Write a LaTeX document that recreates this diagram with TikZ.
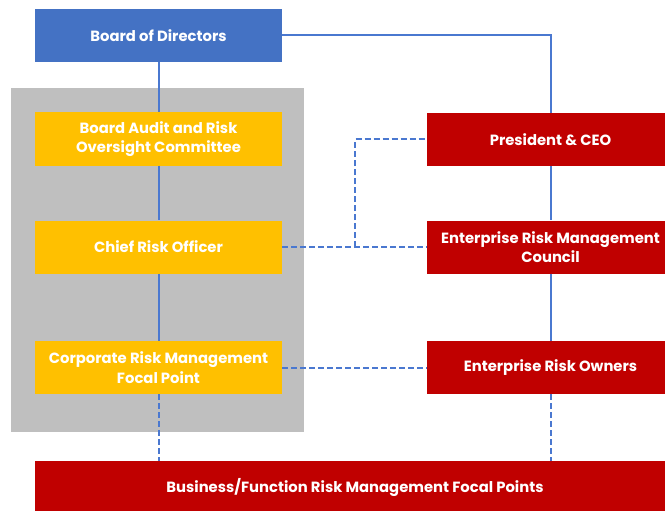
\documentclass[tikz,border=0pt]{standalone}
\usepackage{fontspec}
\setmainfont{Poppins}
\usetikzlibrary{positioning}
\definecolor{boardblue}{HTML}{4472C4}
\definecolor{lineblue}{HTML}{4A78D0}
\definecolor{riskgold}{HTML}{FFC000}
\definecolor{riskred}{HTML}{C00000}
\definecolor{panelgray}{HTML}{BFBFBF}

\begin{document}
\begin{tikzpicture}[x=1pt, y=-1pt,
    box/.style={minimum width=247pt, minimum height=53pt, inner sep=0pt, text=white, align=center, font=\fontsize{14.8}{19.5}\selectfont\bfseries},
    link/.style={draw=lineblue, line width=2pt},
    dashlink/.style={link, dash pattern=on 6pt off 3pt}]
    \clip (0, 0) rectangle (665, 511);
    \fill[white] (0, 0) rectangle (665, 511);
    \fill[panelgray] (11, 88) rectangle (304, 432);
    % left column
    \node[box, fill=boardblue] (board) at (158.5, 35.5) {Board of Directors};
    \node[box, fill=riskgold] (audit) at (158.5, 139) {Board Audit and Risk\\Oversight Committee};
    \node[box, fill=riskgold] (cro) at (158.5, 247) {Chief Risk Officer};
    \node[box, fill=riskgold] (crm) at (158.5, 367.5) {Corporate Risk Management\\Focal Point};
    % right column
    \node[box, fill=riskred] (ceo) at (550.5, 139.5) {President \& CEO};
    \node[box, fill=riskred] (erm) at (550.5, 247) {Enterprise Risk Management\\Council};
    \node[box, fill=riskred] (owners) at (550.5, 367.5) {Enterprise Risk Owners};
    \node[box, fill=riskred, minimum width=640pt, minimum height=54pt] (bfp) at (355, 488) {Business/Function Risk Management Focal Points};
    \coordinate (bend) at (355, 247);
    % reporting lines
    \draw[link] (board.east) -| (ceo.north);
    \draw[link] (board.south) -- (audit.north);
    \draw[link] (audit.south) -- (cro.north);
    \draw[link] (cro.south) -- (crm.north);
    \draw[link] (ceo.south) -- (erm.north);
    \draw[link] (erm.south) -- (owners.north);
    \draw[dashlink] (crm.south) -- (crm.south |- bfp.north);
    \draw[dashlink] (owners.south) -- (owners.south |- bfp.north);
    \draw[dashlink] (cro.east) -- (erm.west);
    \draw[dashlink] (bend) |- (ceo.west);
    \draw[dashlink] (crm.east) -- (owners.west);
\end{tikzpicture}
\end{document}
